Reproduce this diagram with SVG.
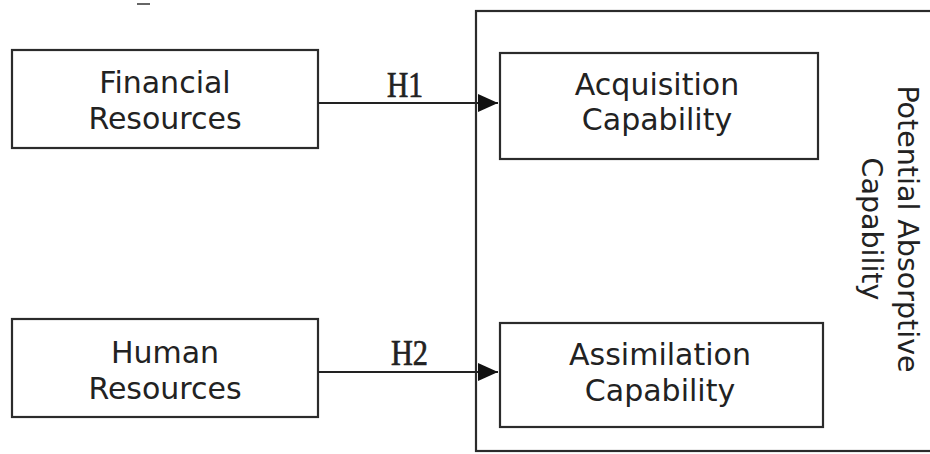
<svg xmlns="http://www.w3.org/2000/svg" width="930" height="454" viewBox="0 0 930 454">
  <style>
    .box { fill: #ffffff; stroke: #2b2b2b; stroke-width: 2.2; }
    .frame { fill: none; stroke: #2b2b2b; stroke-width: 2.2; }
    .lbl { font-family: "DejaVu Sans", Verdana, sans-serif; font-size: 30px; fill: #222222; text-anchor: middle; }
    .side { font-family: "DejaVu Sans", Verdana, sans-serif; font-size: 28.5px; fill: #222222; text-anchor: middle; }
    .hyp { font-family: "Liberation Serif", "Times New Roman", serif; font-size: 36px; fill: #222222; stroke: #222222; stroke-width: 0.7; }
    .edge { fill: none; stroke: #222222; stroke-width: 2; }
  </style>
  <defs>
    <marker id="arrow" markerUnits="userSpaceOnUse" markerWidth="22" markerHeight="20" refX="20" refY="9" orient="auto">
      <path d="M0,0 L20,9 L0,18 Z" fill="#111111"/>
    </marker>
  </defs>

  <rect width="930" height="454" fill="#ffffff"/>

  <!-- small stray mark near the top edge -->
  <line x1="137" y1="4" x2="150" y2="4" stroke="#666666" stroke-width="2"/>

  <!-- frame enclosing the potential absorptive capability -->
  <g id="potential-absorptive-capability">
    <rect class="frame" x="476" y="11" width="470" height="440"/>
    <text class="side" transform="translate(898,229) rotate(90)">Potential Absorptive</text>
    <text class="side" transform="translate(862,229) rotate(90)">Capability</text>
  </g>

  <g id="financial-resources">
    <rect class="box" x="12" y="50" width="306" height="98"/>
    <text class="lbl" x="165" y="93">Financial</text>
    <text class="lbl" x="165" y="129">Resources</text>
  </g>

  <g id="human-resources">
    <rect class="box" x="12" y="319" width="306" height="98"/>
    <text class="lbl" x="165" y="363">Human</text>
    <text class="lbl" x="165" y="399">Resources</text>
  </g>

  <g id="acquisition-capability">
    <rect class="box" x="500" y="53" width="318" height="106"/>
    <text class="lbl" x="657" y="95">Acquisition</text>
    <text class="lbl" x="657" y="130">Capability</text>
  </g>

  <g id="assimilation-capability">
    <rect class="box" x="500" y="323" width="323" height="104"/>
    <text class="lbl" x="660" y="365">Assimilation</text>
    <text class="lbl" x="660" y="401">Capability</text>
  </g>

  <g id="connectors">
    <line class="edge" x1="318" y1="103" x2="498" y2="103" marker-end="url(#arrow)"/>
    <text class="hyp" x="387" y="97" textLength="36" lengthAdjust="spacingAndGlyphs">H1</text>
    <line class="edge" x1="318" y1="372" x2="498" y2="372" marker-end="url(#arrow)"/>
    <text class="hyp" x="391" y="365" textLength="37" lengthAdjust="spacingAndGlyphs">H2</text>
  </g>
</svg>
